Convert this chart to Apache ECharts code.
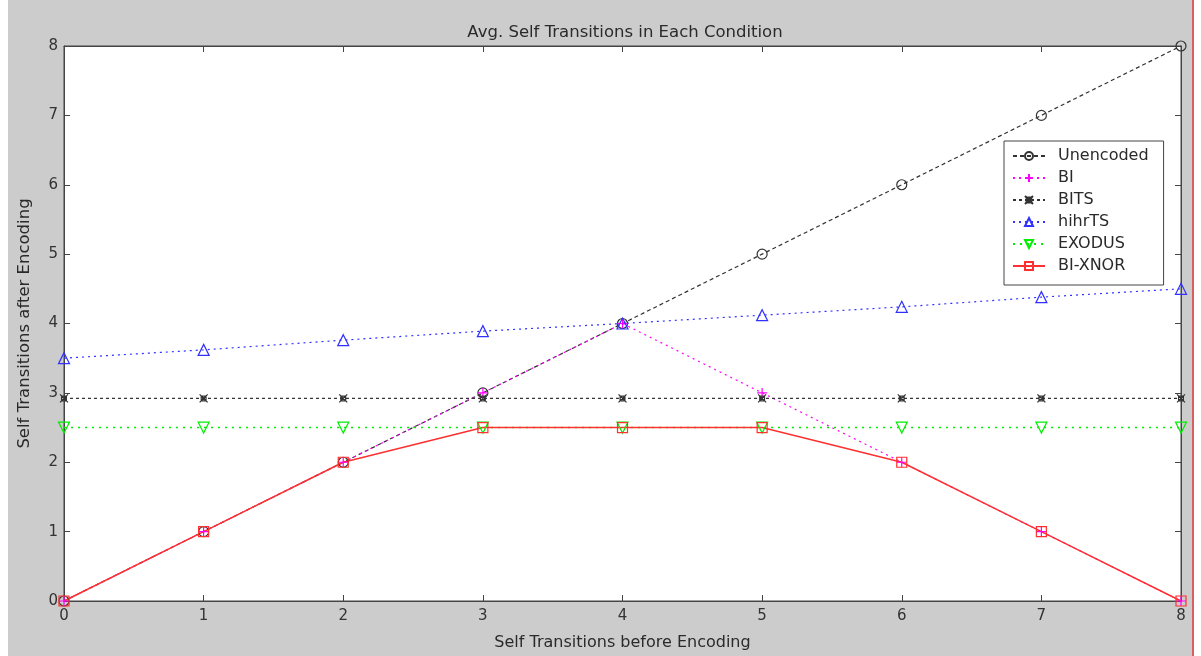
<!DOCTYPE html>
<html><head><meta charset="utf-8">
<script src="https://cdn.jsdelivr.net/npm/echarts@6/dist/echarts.min.js"></script>
<style>html,body{margin:0;padding:0;background:#fff}#c{width:1201px;height:656px}</style>
</head><body><div id="c"></div>
<script>
const xVals = [0,1,2,3,4,5,6,7,8];
const unencoded = [0,1,2,3,4,5,6,7,8];
const bi = [0,1,2,3,4,3,2,1,0];
const bits = [2.92,2.92,2.92,2.92,2.92,2.92,2.92,2.92,2.92];
const hihrts = [3.5,3.62,3.76,3.89,4.0,4.12,4.24,4.38,4.5];
const exodus = [2.5,2.5,2.5,2.5,2.5,2.5,2.5,2.5,2.5];
const bixnor = [0,1,2,2.5,2.5,2.5,2,1,0];
const seriesNames = ['Unencoded','BI','BITS','hihrTS','EXODUS','BI-XNOR'];
const xTicks = ['0','1','2','3','4','5','6','7','8'];

const pts = v => xVals.map((x,i)=>[x,v[i]]);
const FONT = 'DejaVu Sans, Verdana, sans-serif';
const plus = 'path://M5,0L5,10M0,5L10,5';
const cross = 'path://M0,0L10,10M10,0L0,10M2,2L8,2L8,8L2,8Z';

function mk(name, data, color, ltype, symbol, size, width, rot){
  return {
    name, type:'line', data: pts(data), symbol, symbolSize:size, symbolRotate: rot||0,
    showSymbol:true, animation:false,
    lineStyle:{color, width: width||1.2, type: ltype},
    itemStyle:{color:'rgba(0,0,0,0)', borderColor:color, borderWidth:1.2},
    emphasis:{disabled:true}
  };
}

const chart = echarts.init(document.getElementById('c'), null, {renderer:'canvas'});
const axisCol = '#444';
chart.setOption({
  backgroundColor:'#ffffff',
  animation:false,
  graphic:[
    {type:'rect', z:-10, shape:{x:8,y:0,width:1185,height:656}, style:{fill:'#cccccc'}},
    {type:'rect', z:-10, shape:{x:1192,y:0,width:2,height:656}, style:{fill:'#d86060'}}
  ],
  title:{text:'Avg. Self Transitions in Each Condition', left:620, top:19, textAlign:'center',
    textStyle:{fontFamily:FONT, fontSize:16.5, fontWeight:'normal', color:'#2a2a2a'}},
  grid:{left:64, right:20, top:46, bottom:53, show:true, backgroundColor:'#ffffff', borderColor:axisCol, borderWidth:1},
  legend:{
    orient:'vertical', left:1004, top:141,
    backgroundColor:'#ffffff', borderColor:'#444', borderWidth:1,
    padding:[7,15,11,8], itemWidth:32, itemHeight:10, itemGap:6,
    textStyle:{fontFamily:FONT, fontSize:16, color:'#2a2a2a', lineHeight:14, padding:[0,0,0,8]},
    data: seriesNames
  },
  xAxis:[
    {type:'value', min:0, max:8, interval:1, position:'bottom',
     name:'Self Transitions before Encoding', nameLocation:'middle', nameGap:34,
     nameTextStyle:{fontFamily:FONT, fontSize:16, color:'#2a2a2a'},
     axisLine:{show:true, onZero:false, lineStyle:{color:axisCol}},
     axisTick:{show:true, inside:true, length:6, lineStyle:{color:axisCol}},
     axisLabel:{fontFamily:FONT, fontSize:15, color:'#333', margin:8, formatter:v=>xTicks[v]},
     splitLine:{show:false}},
    {type:'value', min:0, max:8, interval:1, position:'top',
     axisLine:{show:true, onZero:false, lineStyle:{color:axisCol}},
     axisTick:{show:true, inside:true, length:6, lineStyle:{color:axisCol}},
     axisLabel:{show:false}, splitLine:{show:false}}
  ],
  yAxis:[
    {type:'value', min:0, max:8, interval:1, position:'left',
     name:'Self Transitions after Encoding', nameLocation:'middle', nameGap:31,
     nameTextStyle:{fontFamily:FONT, fontSize:16.5, color:'#2a2a2a'},
     axisLine:{show:true, onZero:false, lineStyle:{color:axisCol}},
     axisTick:{show:true, inside:true, length:6, lineStyle:{color:axisCol}},
     axisLabel:{fontFamily:FONT, fontSize:15, color:'#333', margin:6},
     splitLine:{show:false}},
    {type:'value', min:0, max:8, interval:1, position:'right',
     axisLine:{show:true, onZero:false, lineStyle:{color:axisCol}},
     axisTick:{show:true, inside:true, length:6, lineStyle:{color:axisCol}},
     axisLabel:{show:false}, splitLine:{show:false}}
  ],
  series:[
    mk('Unencoded', unencoded, '#333333', [4,3], 'circle', 10),
    mk('BI', bi, '#ff00ff', [2,4], plus, 10),
    mk('BITS', bits, '#333333', [3,3], cross, 8),
    mk('hihrTS', hihrts, '#3030ff', [2,4], 'triangle', 11),
    mk('EXODUS', exodus, '#00ee00', [2,5], 'triangle', 11, 1.5, 180),
    mk('BI-XNOR', bixnor, '#ff3030', 'solid', 'rect', 10, 1.5)
  ]
});
</script></body></html>
